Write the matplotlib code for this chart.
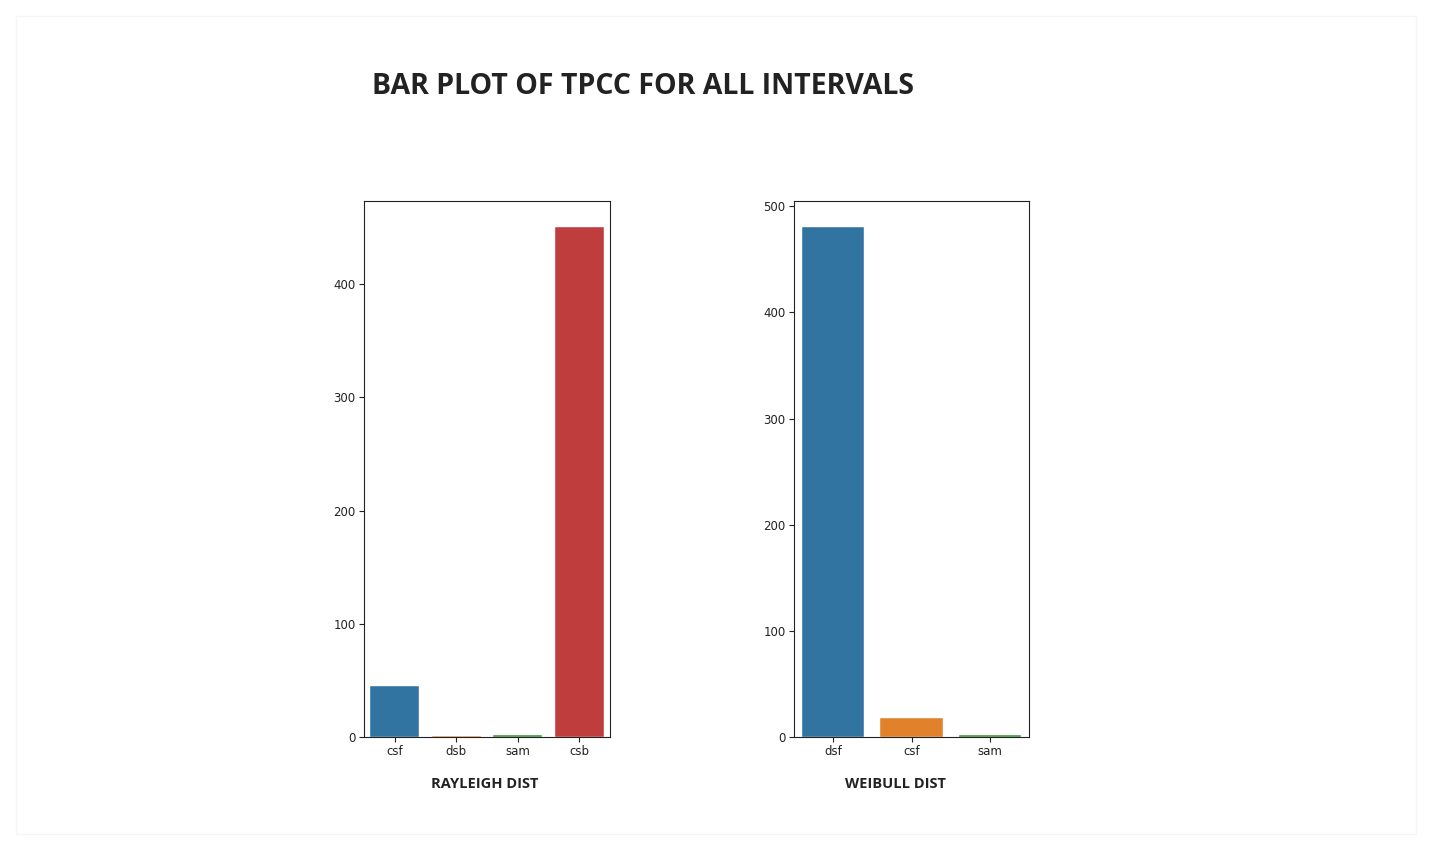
import matplotlib
matplotlib.use("Agg")
import matplotlib.pyplot as plt
from matplotlib.patches import Rectangle

rayleigh_cats = ["csf", "dsb", "sam", "csb"]
rayleigh_vals = [45, 1, 2, 451]
weibull_cats = ["dsf", "csf", "sam"]
weibull_vals = [481, 18, 2]

colors = ["#3274a1", "#e1812c", "#3a923a", "#c03d3e"]

W, H = 1433, 850
fig = plt.figure(figsize=(W / 100, H / 100), dpi=100)
fig.patch.set_facecolor("white")

fig.patches.append(Rectangle((16 / W, 16 / H), 1400 / W, 818 / H, transform=fig.transFigure,
                             fill=False, edgecolor="#f5f5f5", linewidth=1))

def px_axes(x0, x1, y0, y1):
    return fig.add_axes([x0 / W, 1 - y1 / H, (x1 - x0) / W, (y1 - y0) / H])

ax1 = px_axes(364, 610, 201, 737)
ax2 = px_axes(794, 1029, 201, 737)

for ax, cats, vals, lab, lx in [(ax1, rayleigh_cats, rayleigh_vals, "RAYLEIGH DIST", 0.492),
                                (ax2, weibull_cats, weibull_vals, "WEIBULL DIST", 0.43)]:
    x = range(len(cats))
    ax.bar(x, vals, width=0.8, color=colors[:len(cats)], edgecolor="white", linewidth=0.3)
    ax.set_xticks(list(x))
    ax.set_xticklabels(cats)
    ax.set_xlim(-0.5, len(cats) - 0.5)
    ax.set_ylim(0, max(vals) * 1.05)
    ax.tick_params(labelsize=8.5, colors="#222222", length=3.5, pad=2.5)
    ax.set_xlabel(lab, fontfamily="Open Sans", fontweight="bold", fontsize=10.5,
                  color="#222222")
    ax.xaxis.set_label_coords(lx, -0.0877)
    ax.xaxis.label.set_va("center")
    for s in ax.spines.values():
        s.set_color("#222222")

ax2.set_yticks([0, 100, 200, 300, 400, 500])

fig.text(372 / W, 1 - 87 / H, "BAR PLOT OF TPCC FOR ALL INTERVALS", fontfamily="Open Sans",
         fontweight="bold", fontsize=20.5, color="#222222", ha="left", va="center")

fig.savefig("out.png", dpi=100)
